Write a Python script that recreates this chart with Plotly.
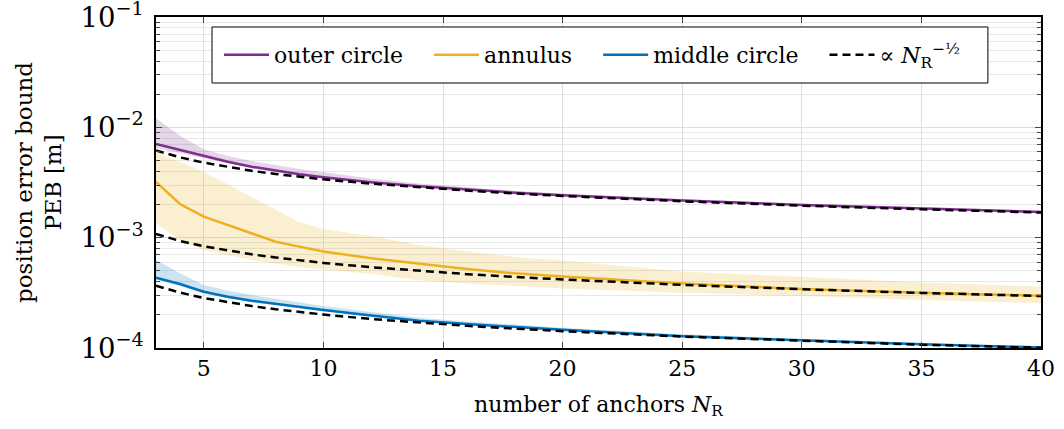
import plotly.graph_objects as go

# number of anchors
N = [3, 4, 5, 6, 7, 8, 9, 10, 12, 14, 16, 18, 20, 25, 30, 35, 40]

# outer circle
outer_mean = [7.06e-3, 6.23e-3, 5.50e-3, 4.88e-3, 4.40e-3, 4.05e-3, 3.76e-3, 3.53e-3, 3.18e-3,
              2.92e-3, 2.72e-3, 2.56e-3, 2.43e-3, 2.17e-3, 1.98e-3, 1.83e-3, 1.71e-3]
outer_upper = [1.21e-2, 8.4e-3, 6.35e-3, 5.5e-3, 4.95e-3, 4.55e-3, 4.2e-3, 3.92e-3, 3.45e-3,
               3.1e-3, 2.85e-3, 2.66e-3, 2.52e-3, 2.24e-3, 2.04e-3, 1.88e-3, 1.76e-3]
outer_lower = [6.5e-3, 5.85e-3, 5.25e-3, 4.7e-3, 4.26e-3, 3.93e-3, 3.66e-3, 3.44e-3, 3.1e-3,
               2.86e-3, 2.67e-3, 2.52e-3, 2.39e-3, 2.14e-3, 1.95e-3, 1.81e-3, 1.69e-3]
outer_ref = [6.18e-3, 5.35e-3, 4.79e-3, 4.37e-3, 4.04e-3, 3.78e-3, 3.57e-3, 3.38e-3, 3.09e-3,
             2.86e-3, 2.675e-3, 2.52e-3, 2.39e-3, 2.14e-3, 1.95e-3, 1.81e-3, 1.69e-3]

# annulus
ann_mean = [3.21e-3, 2.02e-3, 1.55e-3, 1.30e-3, 1.08e-3, 9.2e-4, 8.3e-4, 7.5e-4, 6.5e-4,
            5.8e-4, 5.2e-4, 4.75e-4, 4.45e-4, 3.85e-4, 3.42e-4, 3.17e-4, 2.98e-4]
ann_upper = [6.0e-3, 4.85e-3, 3.95e-3, 3.05e-3, 2.35e-3, 1.8e-3, 1.38e-3, 1.2e-3, 1.03e-3,
             8.6e-4, 7.5e-4, 6.7e-4, 6.2e-4, 4.95e-4, 4.38e-4, 3.92e-4, 3.6e-4]
ann_lower = [1.35e-3, 9.5e-4, 7.7e-4, 6.9e-4, 6.3e-4, 5.8e-4, 5.45e-4, 5.15e-4, 4.7e-4,
             4.1e-4, 3.85e-4, 3.65e-4, 3.47e-4, 3.17e-4, 2.96e-4, 2.72e-4, 2.55e-4]
ann_ref = [1.08e-3, 9.35e-4, 8.36e-4, 7.63e-4, 7.07e-4, 6.61e-4, 6.23e-4, 5.91e-4, 5.40e-4,
           5.0e-4, 4.675e-4, 4.41e-4, 4.18e-4, 3.74e-4, 3.41e-4, 3.16e-4, 2.96e-4]

# middle circle
mid_mean = [4.33e-4, 3.8e-4, 3.24e-4, 2.92e-4, 2.68e-4, 2.51e-4, 2.34e-4, 2.21e-4, 1.97e-4,
            1.77e-4, 1.65e-4, 1.55e-4, 1.46e-4, 1.28e-4, 1.17e-4, 1.08e-4, 1.01e-4]
mid_upper = [6.27e-4, 4.75e-4, 3.73e-4, 3.3e-4, 3.02e-4, 2.8e-4, 2.57e-4, 2.4e-4, 2.12e-4,
             1.88e-4, 1.74e-4, 1.62e-4, 1.53e-4, 1.33e-4, 1.21e-4, 1.11e-4, 1.035e-4]
mid_lower = [4.15e-4, 3.65e-4, 3.12e-4, 2.82e-4, 2.6e-4, 2.44e-4, 2.28e-4, 2.15e-4, 1.93e-4,
             1.73e-4, 1.61e-4, 1.51e-4, 1.43e-4, 1.26e-4, 1.15e-4, 1.065e-4, 1.0e-4]
mid_ref = [3.67e-4, 3.18e-4, 2.84e-4, 2.59e-4, 2.40e-4, 2.245e-4, 2.12e-4, 2.01e-4, 1.83e-4,
           1.70e-4, 1.59e-4, 1.50e-4, 1.42e-4, 1.27e-4, 1.16e-4, 1.07e-4, 1.004e-4]

series = [
    ("outer circle", outer_mean, outer_lower, outer_upper, outer_ref, "#7E2F8E", "rgba(126,47,142,0.2)"),
    ("annulus", ann_mean, ann_lower, ann_upper, ann_ref, "#EDB120", "rgba(237,177,32,0.2)"),
    ("middle circle", mid_mean, mid_lower, mid_upper, mid_ref, "#0072BD", "rgba(0,114,189,0.2)"),
]

FONT = "DejaVu Serif"
PAD = "\u00a0\u00a0\u00a0"

fig = go.Figure()

for name, mean, lo, up, ref, col, fcol in series:
    fig.add_trace(go.Scatter(x=N, y=lo, mode="lines", line=dict(width=0, color=fcol),
                             showlegend=False, hoverinfo="skip"))
    fig.add_trace(go.Scatter(x=N, y=up, mode="lines", line=dict(width=0, color=fcol),
                             fill="tonexty", fillcolor=fcol, showlegend=False, hoverinfo="skip"))

for name, mean, lo, up, ref, col, fcol in series:
    fig.add_trace(go.Scatter(x=N, y=mean, mode="lines", name=name + PAD,
                             line=dict(color=col, width=2.5)))

for i, (name, mean, lo, up, ref, col, fcol) in enumerate(series):
    fig.add_trace(go.Scatter(x=N, y=ref, mode="lines",
                             name="∝ <i>N</i><sub>R</sub><sup>−½</sup>",
                             showlegend=(i == 0),
                             line=dict(color="black", width=2.5, dash="8px,5px")))

axis_common = dict(
    showline=True, linecolor="black", linewidth=1.5, mirror="ticks",
    ticks="inside", tickcolor="#444444", tickwidth=1,
    gridcolor="#dedede", gridwidth=1, zeroline=False,
    tickfont=dict(family=FONT, size=22, color="black"),
    ticklabeloverflow="allow", automargin=False,
)

fig.update_xaxes(
    range=[3, 40], tick0=0, dtick=5, ticklen=6,
    title=dict(text="number of anchors <i>N</i><sub>R</sub>",
               font=dict(family=FONT, size=22, color="black"), standoff=16),
    **axis_common,
)
fig.update_yaxes(
    type="log", range=[-4, -0.999], dtick=1, exponentformat="power", showexponent="all",
    ticklen=6, ticklabelstandoff=6,
    minor=dict(ticks="inside", ticklen=4, tickcolor="#444444", showgrid=True,
               gridcolor="#e8e8e8", gridwidth=1),
    title=dict(text="position error bound<br>PEB [m]",
               font=dict(family=FONT, size=23, color="black"), standoff=12),
    **axis_common,
)

# legend frame (paper coords are relative to the plot area)
fig.add_shape(type="rect", xref="paper", yref="paper",
              x0=0.0633, x1=0.940, y0=0.8006, y1=0.9698,
              line=dict(color="black", width=1), fillcolor="white", layer="above")

fig.update_layout(
    width=1064, height=429,
    margin=dict(l=156, r=23, t=17, b=81, autoexpand=False),
    plot_bgcolor="white", paper_bgcolor="white",
    font=dict(family=FONT, size=22, color="black"),
    legend=dict(orientation="h", x=0.0712, y=0.885, xanchor="left", yanchor="middle",
                bgcolor="rgba(0,0,0,0)", borderwidth=0, traceorder="normal",
                font=dict(family=FONT, size=22, color="black"),
                itemwidth=45, tracegroupgap=0),
)

fig.write_html("out.html")
